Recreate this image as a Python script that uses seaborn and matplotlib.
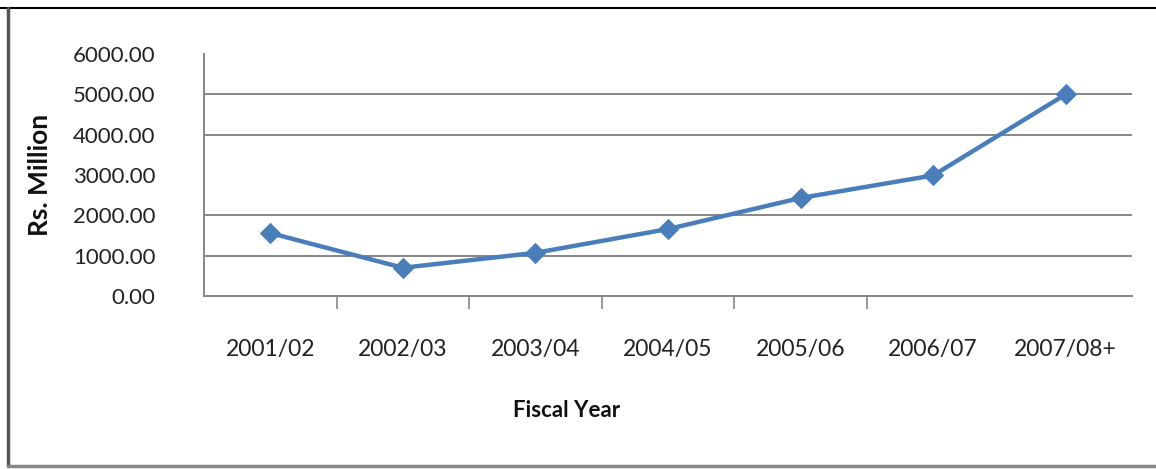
import matplotlib
matplotlib.use("Agg")
import matplotlib.pyplot as plt
from matplotlib.lines import Line2D
import seaborn as sns
import pandas as pd

# ---- data ----
years = ["2001/02", "2002/03", "2003/04", "2004/05", "2005/06", "2006/07", "2007/08+"]
values = [1560, 700, 1070, 1660, 2430, 2990, 5000]
y_ticks = [0, 1000, 2000, 3000, 4000, 5000, 6000]
grid_values = [0, 1000, 2000, 4000, 5000]   # 3000 line not visible in reference
y_label = "Rs. Million"
x_label = "Fiscal Year"

sns.set_theme(style="white")
plt.rcParams["font.family"] = ["Lato", "DejaVu Sans"]

W, H = 1156, 469
fig = plt.figure(figsize=(W / 100, H / 100), dpi=100)
ax = fig.add_axes([204 / W, 1 - 296 / H, (1132 - 204) / W, (296 - 54) / H])

df = pd.DataFrame({"year": years, "value": values})
sns.lineplot(data=df, x="year", y="value", sort=False, ax=ax,
             color="#4A7EBB", linewidth=3.2, marker="D", markersize=10,
             markeredgecolor="#4A7EBB")

ax.set_xlim(-0.5, len(years) - 0.5)
ax.set_ylim(0, 6000)

grey = "#868686"
# y ticks / labels
ax.set_yticks(y_ticks)
ax.set_yticklabels([f"{v:.2f}" for v in y_ticks], fontsize=16, color="#222222")
ax.tick_params(axis="y", which="major", length=0, pad=35)
ax.set_yticks(grid_values, minor=True)
ax.tick_params(axis="y", which="minor", length=7, width=1.2, color=grey, direction="out", left=True)
for g in grid_values:
    ax.axhline(g, color=grey, linewidth=1.4, zorder=0.5)

# x ticks / labels
ax.set_xticks(range(len(years)))
ax.set_xticklabels(years, fontsize=16.5, color="#222222")
ax.tick_params(axis="x", which="major", length=0, pad=31)
ax.set_xticks([0.5, 1.5, 2.5, 3.5, 4.5], minor=True)
ax.tick_params(axis="x", which="minor", length=9, width=1.2, color=grey, direction="out", bottom=True)

ax.set_xlabel("")
ax.set_ylabel("")
for s in ["top", "right"]:
    ax.spines[s].set_visible(False)
ax.spines["left"].set_color(grey)
ax.spines["left"].set_linewidth(1.4)
ax.spines["bottom"].set_color(grey)
ax.spines["bottom"].set_linewidth(1.4)
ax.spines["left"].set_bounds(0, 6000)

fig.text(40 / W, 1 - 175 / H, y_label, rotation=90, ha="center", va="center",
         fontsize=19, fontweight="bold", color="#111111")
fig.text(567 / W, 1 - 410 / H, x_label, ha="center", va="center",
         fontsize=16, fontweight="bold", color="#111111")

# outer frame of the chart area
fig.add_artist(Line2D([0, 1], [1 - 8 / H, 1 - 8 / H], transform=fig.transFigure,
                      color="black", linewidth=1.5))
fig.add_artist(Line2D([8 / W, 8 / W], [1 - 8 / H, 1 - 466 / H], transform=fig.transFigure,
                      color="#555555", linewidth=2.5))
fig.add_artist(Line2D([8 / W, 1], [1 - 466 / H, 1 - 466 / H], transform=fig.transFigure,
                      color="#888888", linewidth=2.5))

fig.savefig("out.png", dpi=100)
